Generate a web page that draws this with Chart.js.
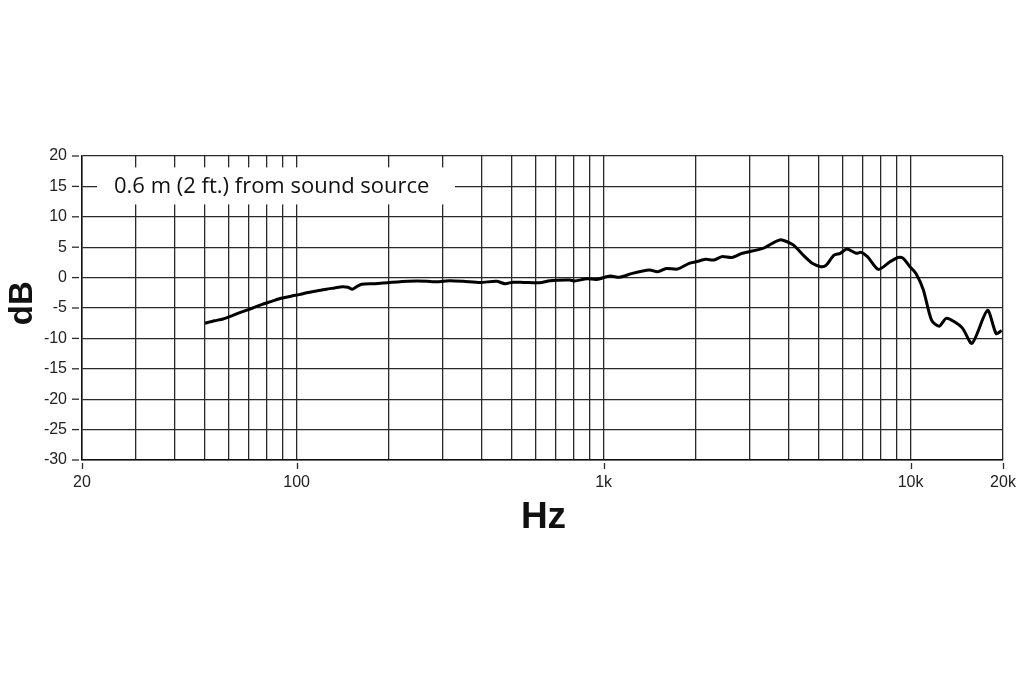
<!DOCTYPE html>
<html>
<head>
<meta charset="utf-8">
<script src="https://cdn.jsdelivr.net/npm/chart.js@4"></script>
<style>
html,body{margin:0;padding:0;background:#fff;}
#wrap{width:1024px;height:683px;position:relative;}
</style>
</head>
<body>
<div id="wrap"><canvas id="c"></canvas></div>
<script>
// ---- data ----
const freqHz = [50.3,54,57.6,62,66.7,72,77.3,83,89,97,102,108,116,125,133,141,147,152,158,163,180,201,231,266,279,300,316,349,397,448,477,507,550,619,669,776,805,883,950,1050,1127,1241,1410,1500,1600,1740,1900,2000,2150,2290,2430,2620,2830,3300,3750,4140,4470,4800,5100,5300,5630,5900,6200,6650,6900,7250,7850,8570,9100,9440,9950,10400,11000,11700,12400,13100,14700,15850,17800,19000,19800];
const responseDb = [-7.5,-7.1,-6.8,-6.2,-5.6,-5.0,-4.4,-3.9,-3.4,-3.0,-2.8,-2.5,-2.2,-1.9,-1.7,-1.5,-1.6,-1.9,-1.4,-1.1,-1.0,-0.8,-0.6,-0.6,-0.7,-0.6,-0.5,-0.6,-0.8,-0.6,-1.0,-0.75,-0.8,-0.85,-0.5,-0.4,-0.55,-0.2,-0.3,0.25,0.05,0.7,1.25,0.97,1.5,1.4,2.35,2.6,3.0,2.9,3.45,3.3,4.0,4.8,6.2,5.4,3.7,2.3,1.8,2.0,3.7,4.0,4.7,4.0,4.15,3.4,1.35,2.6,3.3,3.2,1.8,0.7,-2.0,-7.0,-8.0,-6.7,-8.2,-10.8,-5.4,-9.2,-8.7];
const xGridHz = [20,30,40,50,60,70,80,90,100,200,300,400,500,600,700,800,900,1000,2000,3000,4000,5000,6000,7000,8000,9000,10000,20000];
const xLabeled = {20:'20',100:'100',1000:'1k',10000:'10k',20000:'20k'};
const yTicksDb = [-30,-25,-20,-15,-10,-5,0,5,10,15,20];
const annotationText = '0.6 m (2 ft.) from sound source';
const xTitle = 'Hz';
const yTitle = 'dB';

const points = freqHz.map((f,i)=>({x:f,y:responseDb[i]}));
const gridColor = '#2a2a2a';
const tickFont = {family:'"Liberation Sans", Arial, sans-serif', size:16};

const decor = {
  id:'decor',
  beforeDatasetsDraw(chart){
    const {ctx, chartArea:a, scales:{x,y}} = chart;
    ctx.save();
    const yc = y.getPixelForValue(15);
    ctx.fillStyle = '#fff';
    ctx.fillRect(a.left+15, yc-19, 358, 37);
    ctx.fillStyle = '#111';
    ctx.font = '22px "Open Sans", sans-serif';
    ctx.textBaseline = 'middle';
    ctx.textAlign = 'left';
    ctx.fillText(annotationText, a.left+32, yc);
    ctx.restore();
  },
  afterDraw(chart){
    const {ctx, chartArea:a, scales:{x,y}} = chart;
    ctx.save();
    ctx.strokeStyle = gridColor;
    ctx.lineWidth = 1.3;
    Object.keys(xLabeled).forEach(k=>{
      const px = Math.round(x.getPixelForValue(+k))+0.5;
      ctx.beginPath(); ctx.moveTo(px, a.bottom+3); ctx.lineTo(px, a.bottom+9); ctx.stroke();
    });
    yTicksDb.forEach(v=>{
      const py = y.getPixelForValue(v);
      ctx.beginPath(); ctx.moveTo(a.left-10, py); ctx.lineTo(a.left-3, py); ctx.stroke();
    });
    ctx.fillStyle = '#111';
    ctx.font = 'bold 37px "Liberation Sans", Arial, sans-serif';
    ctx.textAlign = 'center'; ctx.textBaseline = 'middle';
    ctx.fillText(xTitle, (a.left+a.right)/2+1, 518);
    ctx.translate(23, y.getPixelForValue(-4.2));
    ctx.rotate(-Math.PI/2);
    ctx.font = 'bold 33px "Liberation Sans", Arial, sans-serif';
    ctx.fillText(yTitle, 0, 0);
    ctx.restore();
  }
};

new Chart(document.getElementById('c'), {
  type:'line',
  data:{datasets:[{data:points, borderColor:'#000', borderWidth:3, pointRadius:0, tension:0.25, fill:false}]},
  options:{
    responsive:true, maintainAspectRatio:false, animation:false,
    layout:{padding:{left:0,right:21,top:156,bottom:143}},
    plugins:{legend:{display:false}, tooltip:{enabled:false}},
    scales:{
      x:{
        type:'logarithmic', min:20, max:20000,
        afterBuildTicks(s){ s.ticks = xGridHz.map(v=>({value:v})); },
        afterFit(s){ s.height = 80; s.paddingLeft = 0; s.paddingRight = 0; },
        ticks:{autoSkip:false, maxRotation:0, padding:13, color:'#222', font:tickFont,
          callback:(v)=> xLabeled[v] || ''},
        grid:{color:gridColor, lineWidth:1.3, drawTicks:false},
        border:{color:'#111', width:1.5}
      },
      y:{
        min:-30, max:20,
        afterBuildTicks(s){ s.ticks = yTicksDb.map(v=>({value:v})); },
        afterFit(s){ s.width = 82; s.paddingTop = 0; s.paddingBottom = 0; },
        ticks:{padding:15, color:'#222', font:tickFont},
        grid:{color:gridColor, lineWidth:1.3, drawTicks:false},
        border:{color:'#111', width:1.5}
      }
    }
  },
  plugins:[decor]
});
</script>
</body>
</html>
